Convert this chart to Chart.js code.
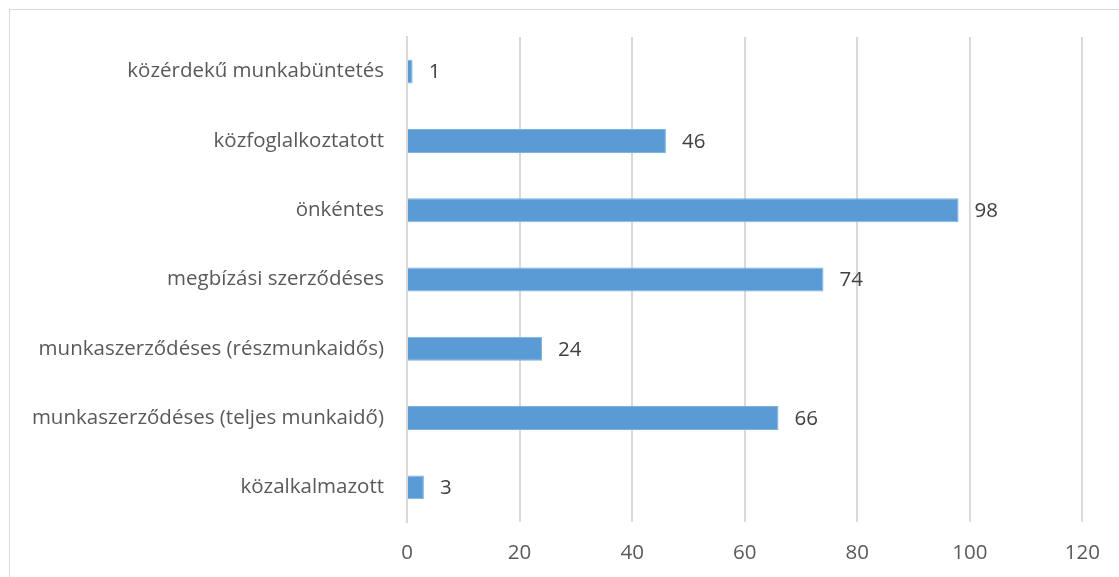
<!DOCTYPE html>
<html>
<head>
<meta charset="utf-8">
<script src="https://cdn.jsdelivr.net/npm/chart.js@4/dist/chart.umd.min.js"></script>
<style>
  html, body { margin: 0; padding: 0; background: #ffffff; overflow: hidden; }
  #frame {
    position: absolute; left: 9px; top: 9px; width: 1130px; height: 600px;
    border: 1px solid #d9d9d9; box-sizing: border-box;
  }
  #wrap { position: absolute; left: 0; top: 0; width: 1119px; height: 577px; }
</style>
</head>
<body>
<div id="frame"></div>
<div id="wrap"><canvas id="chart"></canvas></div>
<script>
// categories top to bottom, as in the picture
const categories = [
    'közérdekű munkabüntetés',
    'közfoglalkoztatott',
    'önkéntes',
    'megbízási szerződéses',
    'munkaszerződéses (részmunkaidős)',
    'munkaszerződéses (teljes munkaidő)',
    'közalkalmazott'
];
const values = [1, 46, 98, 74, 24, 66, 3];
const xTicks = [0, 20, 40, 60, 80, 100, 120];

const FONT = '"Open Sans", "DejaVu Sans", sans-serif';

// draws the number after the end of each bar
const valueLabels = {
    id: 'valueLabels',
    afterDatasetsDraw(chart) {
        const ctx = chart.ctx;
        const meta = chart.getDatasetMeta(0);
        ctx.save();
        ctx.font = '20.5px ' + FONT;
        ctx.fillStyle = '#404040';
        ctx.textAlign = 'left';
        ctx.textBaseline = 'middle';
        meta.data.forEach(function(bar, i) {
            ctx.fillText(String(values[i]), bar.x + 16, bar.y + 1);
        });
        ctx.restore();
    }
};

new Chart(document.getElementById('chart'), {
    type: 'bar',
    data: {
        labels: categories,
        datasets: [{
            data: values,
            backgroundColor: '#5b9bd5',
            borderColor: '#7fb1df',
            borderWidth: 1,
            barPercentage: 0.69,
            categoryPercentage: 0.5
        }]
    },
    options: {
        indexAxis: 'y',
        responsive: true,
        maintainAspectRatio: false,
        animation: false,
        layout: { padding: { top: 37, right: 35, bottom: 0, left: 0 } },
        scales: {
            x: {
                min: 0,
                max: 120,
                afterBuildTicks: function(scale) {
                    scale.ticks = xTicks.map(v => ({ value: v }));
                },
                afterFit: function(scale) { scale.height = 55; },
                grid: { color: '#d9d9d9', lineWidth: 2, drawTicks: false },
                border: { display: false },
                ticks: { color: '#595959', font: { family: FONT, size: 20.5 }, padding: 19, maxRotation: 0 }
            },
            y: {
                afterFit: function(scale) { scale.width = 407; },
                grid: { display: false, drawTicks: false },
                border: { display: true, color: '#d9d9d9', width: 2 },
                ticks: { color: '#595959', font: { family: FONT, size: 20.5 }, padding: 23 }
            }
        },
        plugins: {
            legend: { display: false },
            tooltip: { enabled: false }
        }
    },
    plugins: [valueLabels]
});
</script>
</body>
</html>
